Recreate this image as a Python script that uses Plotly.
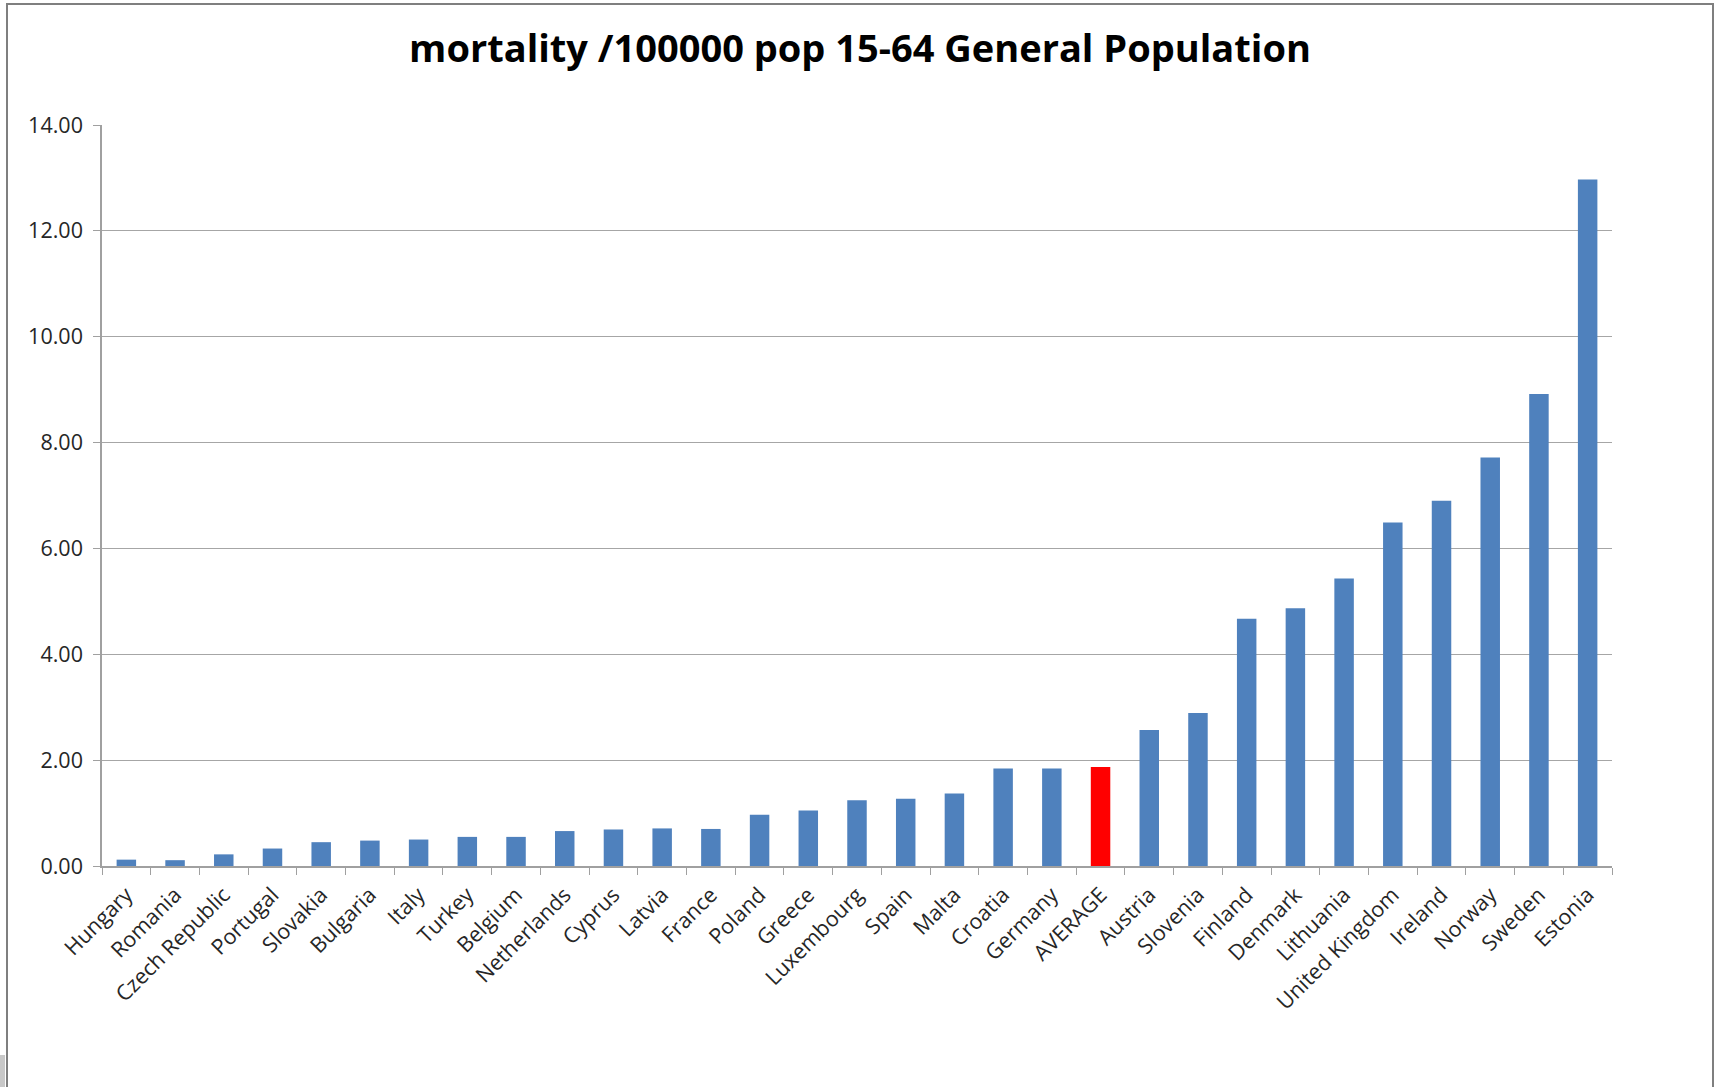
import plotly.graph_objects as go

# Mortality per 100,000 population aged 15-64, sorted ascending
countries = [
    "Hungary", "Romania", "Czech Republic", "Portugal", "Slovakia", "Bulgaria",
    "Italy", "Turkey", "Belgium", "Netherlands", "Cyprus", "Latvia", "France",
    "Poland", "Greece", "Luxembourg", "Spain", "Malta", "Croatia", "Germany",
    "AVERAGE", "Austria", "Slovenia", "Finland", "Denmark", "Lithuania",
    "United Kingdom", "Ireland", "Norway", "Sweden", "Estonia",
]
mortality = [
    0.12, 0.11, 0.22, 0.33, 0.45, 0.48,
    0.50, 0.55, 0.55, 0.66, 0.69, 0.71, 0.70,
    0.97, 1.05, 1.24, 1.27, 1.37, 1.84, 1.84,
    1.87, 2.57, 2.89, 4.67, 4.87, 5.43,
    6.49, 6.90, 7.72, 8.92, 12.97,
]
y_ticks = [0, 2, 4, 6, 8, 10, 12, 14]

BLUE = "#4F81BD"
RED = "#FF0000"
bar_colors = [RED if c == "AVERAGE" else BLUE for c in countries]

W, H = 1717, 1087
ML, MR, MT, MB = 102, 105, 125, 221
PW, PH = W - ML - MR, H - MT - MB


def px_to_paper_x(px):
    return (px - ML) / PW


def px_to_paper_y(py):
    return (H - MB - py) / PH


fig = go.Figure(
    go.Bar(
        x=countries,
        y=mortality,
        marker=dict(color=bar_colors, line=dict(width=0)),
        hovertemplate="%{x}: %{y:.2f}<extra></extra>",
    )
)

fig.update_layout(
    width=W,
    height=H,
    margin=dict(l=ML, r=MR, t=MT, b=MB),
    paper_bgcolor="white",
    plot_bgcolor="white",
    bargap=0.6,
    showlegend=False,
    font=dict(family="Open Sans, sans-serif", color="#262626"),
    title=dict(
        text="<b>mortality /100000 pop 15-64 General Population</b>",
        x=860 / W,
        xanchor="center",
        y=1 - 49 / H,
        yanchor="middle",
        font=dict(family="Open Sans, sans-serif", size=38, color="#000000"),
    ),
    xaxis=dict(
        type="category",
        tickangle=-45,
        tickfont=dict(size=21.5, color="#262626"),
        ticks="outside",
        tickson="boundaries",
        ticklen=7,
        tickcolor="#A0A0A0",
        ticklabelstandoff=6,
        showline=True,
        linecolor="#A0A0A0",
        linewidth=1.5,
        showgrid=False,
        range=[-0.5, len(countries) - 0.5],
    ),
    yaxis=dict(
        range=[0, 14],
        tickvals=y_ticks,
        tickformat=".2f",
        tickfont=dict(size=21.5, color="#262626"),
        ticks="outside",
        ticklen=7,
        tickcolor="#A0A0A0",
        ticklabelstandoff=6,
        showline=True,
        linecolor="#A0A0A0",
        linewidth=1.5,
        showgrid=True,
        gridcolor="#A6A6A6",
        gridwidth=1,
        zeroline=False,
    ),
)

# Outer frame around the chart
fig.add_shape(
    type="rect",
    xref="paper", yref="paper",
    x0=px_to_paper_x(7), x1=px_to_paper_x(1713),
    y0=px_to_paper_y(H + 5), y1=px_to_paper_y(4),
    line=dict(color="#7F7F7F", width=2),
    fillcolor="rgba(0,0,0,0)",
    layer="below",
)

# Small grey tab at the bottom-left corner
fig.add_shape(
    type="rect",
    xref="paper", yref="paper",
    x0=px_to_paper_x(0), x1=px_to_paper_x(5),
    y0=px_to_paper_y(H), y1=px_to_paper_y(1055),
    line=dict(width=0),
    fillcolor="#C8C8C8",
    layer="below",
)

fig.write_html("out.html")
